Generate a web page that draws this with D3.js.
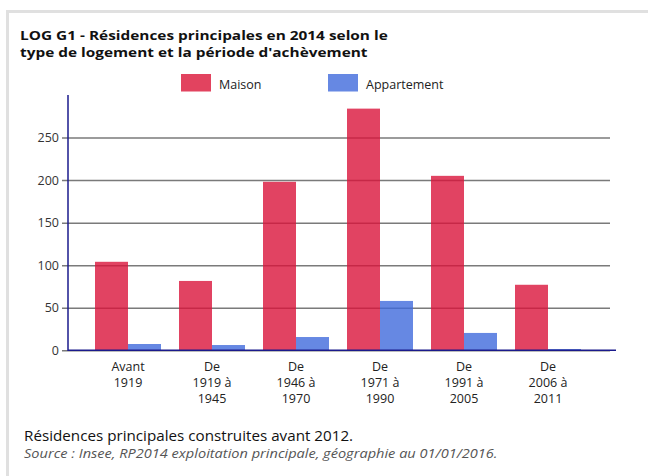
<!DOCTYPE html>
<html><head><meta charset="utf-8">
<script src="https://cdn.jsdelivr.net/npm/d3@7"></script>
<style>
html,body{margin:0;padding:0;background:#fff;}
svg text{font-family:"Open Sans",sans-serif;}
</style></head>
<body>
<svg id="chart" width="648" height="476"></svg>
<script>
const categories = ["Avant 1919","De 1919 à 1945","De 1946 à 1970","De 1971 à 1990","De 1991 à 2005","De 2006 à 2011"];
const categoryLines = [["Avant","1919"],["De","1919 à","1945"],["De","1946 à","1970"],["De","1971 à","1990"],["De","1991 à","2005"],["De","2006 à","2011"]];
const seriesNames = ["Maison","Appartement"];
const maison = [104, 81.5, 198, 284, 205, 77];
const appartement = [7.4, 6.2, 15.6, 58, 20.4, 1.5];
const yTicks = [0,50,100,150,200,250];
const title = ["LOG G1 - Résidences principales en 2014 selon le","type de logement et la période d'achèvement"];
const note = "Résidences principales construites avant 2012.";
const source = "Source : Insee, RP2014 exploitation principale, géographie au 01/01/2016.";

const svg = d3.select("#chart");
// card border
svg.append("path").attr("d","M7.5,476 V11.5 H648").attr("fill","none").attr("stroke","#e0e0e0").attr("stroke-width",3);

const tg = svg.append("g").attr("transform","translate(20,0) scale(1.165,1)");
title.forEach((t,i)=>tg.append("text").attr("x",0).attr("y",40.5+i*16.5).attr("font-size",13.2).attr("font-weight","bold").attr("fill","#111").text(t));

const y = d3.scaleLinear().domain([0,300]).range([350.3,95]);
const x0 = d3.scaleBand().domain(categories).range([86,590]).paddingInner(18/84).paddingOuter(9/84);
const x1 = d3.scaleBand().domain(seriesNames).range([0,x0.bandwidth()]);
const fills = {Maison:"#d9143b", Appartement:"#406adc"};
const legendFills = {Maison:"#e2435f", Appartement:"#6688e3"};

// grid
const grid = svg.append("g").attr("transform","translate(68,0)")
  .call(d3.axisLeft(y).tickValues(yTicks).tickSize(-542).tickSizeOuter(0).tickPadding(9));
grid.select(".domain").remove();
grid.selectAll(".tick line").attr("stroke","#7a7a7a").attr("stroke-width",1.5).attr("x1",-6);
grid.selectAll(".tick text").attr("font-size",12.5).attr("fill","#333").attr("font-family","Open Sans");

// bars
const data = categories.map((c,i)=>({c, v:[{k:"Maison",v:maison[i]},{k:"Appartement",v:appartement[i]}]}));
const gb = svg.append("g");
gb.selectAll("g").data(data).join("g").attr("transform",d=>`translate(${x0(d.c)},0)`)
  .selectAll("rect").data(d=>d.v).join("rect")
  .attr("x",d=>x1(d.k)).attr("width",x1.bandwidth())
  .attr("y",d=>y(d.v)).attr("height",d=>y(0)-y(d.v))
  .attr("fill",d=>fills[d.k]).attr("fill-opacity",0.8);

// axes lines
svg.append("line").attr("x1",68).attr("x2",68).attr("y1",y(300)).attr("y2",y(0)+0.7).attr("stroke","#1a1a8c").attr("stroke-width",1.5);
svg.append("line").attr("x1",68).attr("x2",616).attr("y1",y(0)).attr("y2",y(0)).attr("stroke","#1a1a8c").attr("stroke-width",1.5);

// x labels
const xg = svg.append("g");
categories.forEach((c,i)=>{
  categoryLines[i].forEach((l,j)=>{
    xg.append("text").attr("x",x0(c)+x0.bandwidth()/2).attr("y",371+j*16.2).attr("text-anchor","middle")
      .attr("font-size",12.5).attr("fill","#222").text(l);
  });
});

// legend
const lg = svg.append("g");
const legX = {Maison:181, Appartement:328};
seriesNames.forEach(s=>{
  lg.append("rect").attr("x",legX[s]).attr("y",74).attr("width",30).attr("height",17.5).attr("fill",legendFills[s]);
  lg.append("text").attr("x",legX[s]+38).attr("y",88.5).attr("font-size",12.5).attr("fill","#222").text(s);
});

// footer
svg.append("g").attr("transform","translate(24,0) scale(1.086,1)")
  .append("text").attr("x",0).attr("y",441.5).attr("font-size",14).attr("fill","#111").text(note);
svg.append("g").attr("transform","translate(24,0) scale(1.12,1)")
  .append("text").attr("x",0).attr("y",458.5).attr("font-size",13).attr("font-style","italic").attr("fill","#555").text(source);
</script>
</body></html>
